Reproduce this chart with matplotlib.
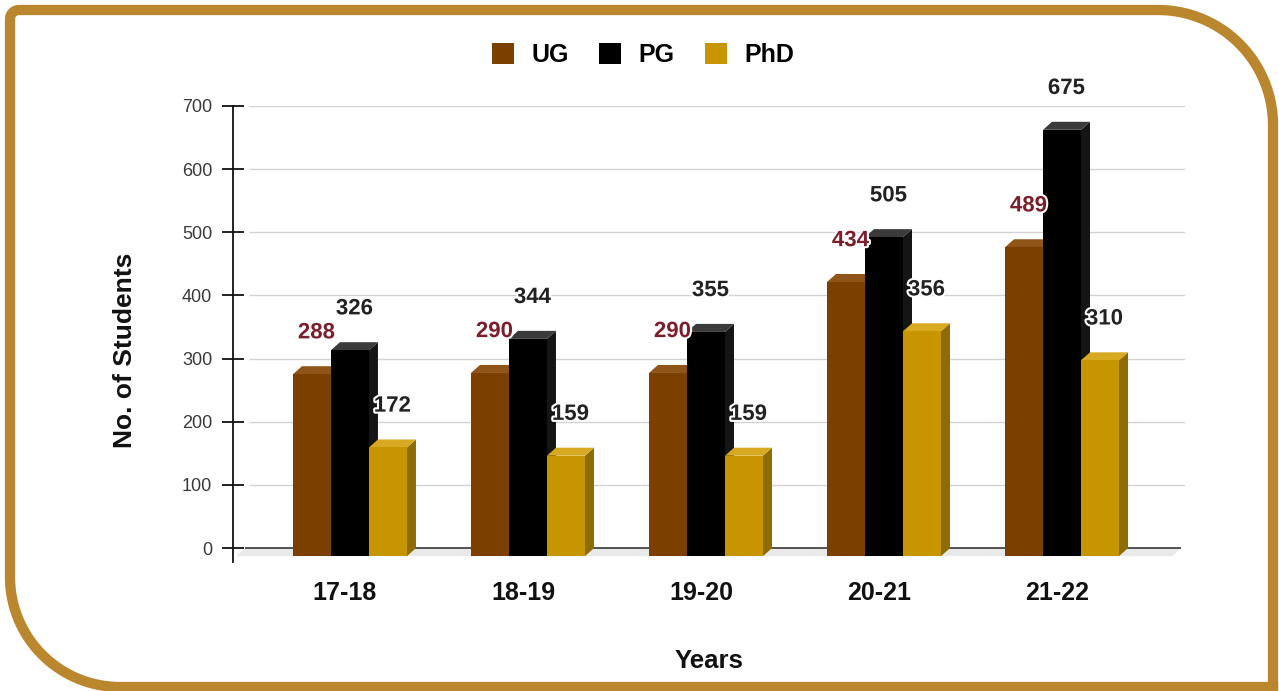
import numpy as np
import matplotlib.pyplot as plt
from matplotlib.patches import Polygon, Patch
from matplotlib.path import Path
from matplotlib.patches import PathPatch
import matplotlib.patheffects as pe

plt.rcParams["font.family"] = ["Liberation Sans", "DejaVu Sans"]

years = ["17-18", "18-19", "19-20", "20-21", "21-22"]
series = ["UG", "PG", "PhD"]
ug = [288, 290, 290, 434, 489]
pg = [326, 344, 355, 505, 675]
phd = [172, 159, 159, 356, 310]

# front / top / side colours for each series
face_colors = {"UG": ("#7B3F00", "#8E5418", "#5A2E00"),
               "PG": ("#000000", "#3A3A3A", "#151515"),
               "PhD": ("#C69500", "#D8AA22", "#8F6C00")}
label_colors = {"UG": "#7A1F2B", "PG": "#222222", "PhD": "#222222"}

W, H = 1279, 691
fig = plt.figure(figsize=(W / 100, H / 100), dpi=100)
ax = fig.add_axes([233 / W, 1 - 562 / H, 952 / W, 456 / H])

x_left, x_right = -0.629, 4.719
ax.set_xlim(x_left, x_right)
ax.set_ylim(-22, 700)

bar_w = 0.2135
dx = 0.0506   # depth offset in x (data units)
dy = 12.7     # depth offset in y (data units)
shift = 0.028

# back wall grid and base line
ax.hlines(range(100, 701, 100), -0.54, x_right, color="#D2D2D2", lw=1, zorder=1)
ax.add_patch(Polygon([(-0.56, 0), (x_right - 0.02, 0), (x_right - 0.02 - dx, -dy),
                      (-0.56 - dx, -dy)], closed=True, facecolor="#E9E9E9",
                     edgecolor="none", zorder=1))
ax.hlines(0, -0.56, x_right - 0.02, color="#444444", lw=1.3, zorder=2)

values = {"UG": ug, "PG": pg, "PhD": phd}
z = 3
for i in range(len(years)):
    for k, s in enumerate(series):
        v = values[s][i]
        xc = i + shift + (k - 1) * bar_w
        x0, x1 = xc - bar_w / 2, xc + bar_w / 2
        front, top, side = face_colors[s]
        ax.add_patch(Polygon([(x1, -dy), (x1 + dx, 0), (x1 + dx, v), (x1, v - dy)],
                             closed=True, facecolor=side, edgecolor="none", zorder=z))
        ax.add_patch(Polygon([(x0, v - dy), (x1, v - dy), (x1 + dx, v), (x0 + dx, v)],
                             closed=True, facecolor=top, edgecolor="none", zorder=z))
        ax.add_patch(Polygon([(x0, -dy), (x1, -dy), (x1, v - dy), (x0, v - dy)],
                             closed=True, facecolor=front, edgecolor="none", zorder=z))
        z += 1

for i in range(len(years)):
    for k, s in enumerate(series):
        v = values[s][i]
        xc = i + shift + (k - 1) * bar_w
        ax.annotate(str(v), (xc + dx / 2, v), xytext=(0, 24), textcoords="offset points",
                    ha="center", va="center", fontsize=16, fontweight="bold",
                    color=label_colors[s], zorder=50,
                    path_effects=[pe.withStroke(linewidth=3, foreground="white")])

for side in ["top", "right", "bottom"]:
    ax.spines[side].set_visible(False)
ax.spines["left"].set_color("#111111")
ax.spines["left"].set_linewidth(1.3)
ax.set_yticks(range(0, 701, 100))
ax.tick_params(axis="y", direction="inout", length=16, width=1.3, color="#111111",
               labelsize=13, labelcolor="#3A3A3A", pad=7)
ax.set_xticks(range(len(years)))
ax.set_xticklabels(years, fontsize=18, fontweight="bold", color="#111111")
ax.tick_params(axis="x", length=0, pad=14)
ax.patch.set_alpha(0)

fig.text(709 / W, 1 - 661 / H, "Years", ha="center", va="center",
         fontsize=18.5, fontweight="bold", color="#111111")
fig.text(125 / W, 1 - 350 / H, "No. of Students", ha="center", va="center",
         rotation=90, fontsize=19, fontweight="bold", color="#111111")

handles = [Patch(facecolor=face_colors[s][0], label=s) for s in series]
fig.legend(handles=handles, loc="center", bbox_to_anchor=(643 / W, 1 - 55 / H),
           ncol=3, frameon=False, handlelength=0.88, handleheight=0.88,
           handletextpad=0.7, columnspacing=1.2,
           prop={"size": 18, "weight": "bold"})

# gold rounded border
ov = fig.add_axes([0, 0, 1, 1])
ov.set_xlim(0, W)
ov.set_ylim(H, 0)
ov.axis("off")
ov.patch.set_alpha(0)
L, T, R, B = 10, 10, 1273, 687
r_tl, r_tr, r_bl = 9, 115, 110


def arc(cx, cy, r, a0, a1):
    t = np.linspace(np.radians(a0), np.radians(a1), 40)
    return list(zip(cx + r * np.cos(t), cy + r * np.sin(t)))


pts = []
pts += arc(L + r_tl, T + r_tl, r_tl, 180, 270)
pts += arc(R - r_tr, T + r_tr, r_tr, 270, 360)
pts += [(R, B + 6), (R, B), (L + r_bl, B)]
pts += arc(L + r_bl, B - r_bl, r_bl, 90, 180)
pts.append(pts[0])
ov.add_patch(PathPatch(Path(pts), facecolor="none", edgecolor="#BA872E",
                       lw=7.4, joinstyle="miter", capstyle="butt"))

fig.savefig("out.png", dpi=100)
